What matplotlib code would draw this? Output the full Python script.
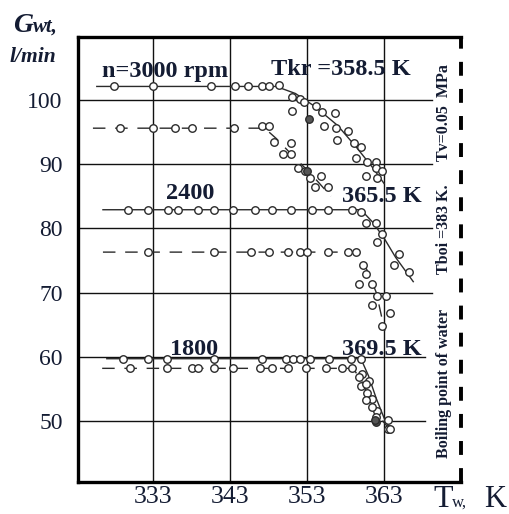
import matplotlib
matplotlib.use("Agg")
import matplotlib.pyplot as plt
from matplotlib.lines import Line2D

plt.rcParams['font.family'] = ['Liberation Serif', 'DejaVu Serif']
plt.rcParams['lines.scale_dashes'] = False

# ---------------- data ----------------
x_ticks = [333, 343, 353, 363]
y_ticks = [50, 60, 70, 80, 90, 100]

# n = 3000 rpm, solid
s1_T = [328.0, 333.0, 340.5, 343.7, 345.3, 347.1, 348.1, 349.3, 351.1, 352.1, 352.6, 351.1,
        354.2, 355.0, 356.6, 355.2, 356.8, 356.9, 358.3, 359.1, 360.0, 359.4, 360.8,
        362.0, 362.0, 360.7, 362.1, 362.8]
s1_G = [102.1, 102.1, 102.1, 102.1, 102.1, 102.1, 102.1, 102.3, 100.5, 100.2, 99.7, 98.3,
        99.0, 98.1, 97.9, 96.0, 95.7, 93.8, 95.2, 93.3, 92.7, 91.0, 90.3,
        90.4, 89.4, 88.1, 87.9, 89.0]
s1_line_T = [325.7, 349.0, 351.5, 354.0, 357.0, 359.5, 361.5, 363.0]
s1_line_G = [102.1, 102.1, 101.0, 99.0, 96.0, 92.5, 89.5, 87.0]

# second 3000 rpm series, dashed
s2_T = [328.7, 333.0, 335.9, 338.1, 343.5, 347.1, 348.1, 348.7, 349.9, 350.9, 350.9,
        351.8, 352.8, 353.4, 354.8, 354.1, 355.7]
s2_G = [95.6, 95.6, 95.6, 95.6, 95.6, 96.0, 96.0, 93.5, 91.6, 93.3, 91.6,
        89.4, 89.0, 87.9, 88.2, 86.5, 86.5]
s2_line_T = [325.2, 347.5, 349.0, 351.0, 353.5, 356.1]
s2_line_G = [95.6, 95.6, 94.0, 91.5, 88.5, 85.0]

# n = 2400 rpm, solid
s3_T = [329.7, 332.3, 335.0, 336.3, 338.8, 340.9, 343.4, 346.2, 348.4, 350.9, 353.7, 355.7,
        358.8, 360.0, 360.7, 361.9, 362.8, 362.1, 365.0, 364.3, 366.3]
s3_G = [82.9, 82.9, 82.9, 82.9, 82.9, 82.9, 82.9, 82.9, 82.9, 82.9, 82.9, 82.9,
        82.9, 82.6, 80.9, 80.9, 79.1, 77.8, 76.0, 74.3, 73.2]
s3_line_T = [326.5, 360.0, 361.5, 363.0, 364.5, 366.8]
s3_line_G = [82.9, 82.9, 81.0, 78.5, 75.5, 71.7]

# second 2400 rpm series, dashed
s4_T = [332.3, 340.9, 345.7, 348.1, 350.5, 352.1, 353.0, 355.7, 358.3, 359.4,
        360.3, 360.7, 359.7, 361.5, 362.1, 363.3, 361.5, 363.8, 362.7]
s4_G = [76.3, 76.3, 76.3, 76.3, 76.3, 76.3, 76.3, 76.3, 76.3, 76.3,
        74.3, 72.9, 71.4, 71.4, 69.5, 69.4, 68.0, 66.8, 64.8]
s4_line_T = [326.5, 359.5, 360.8, 362.0, 363.1]
s4_line_G = [76.3, 76.3, 73.5, 70.0, 64.0]

# n = 1800 rpm, solid
s5_T = [329.1, 332.3, 334.8, 340.9, 347.1, 350.3, 351.2, 352.1, 353.4, 355.9, 358.7, 360.0,
        360.2, 361.1, 360.0, 360.8, 361.5, 362.1, 363.5, 363.5]
s5_G = [59.7, 59.7, 59.7, 59.7, 59.7, 59.7, 59.7, 59.7, 59.7, 59.7, 59.7, 59.7,
        57.3, 56.3, 55.5, 54.3, 53.5, 51.5, 50.2, 48.8]
s5_line_T = [327.0, 360.0, 361.0, 362.0, 363.0, 364.0]
s5_line_G = [59.7, 59.7, 57.0, 53.5, 50.5, 48.2]

# second 1800 rpm series, dashed
s6_T = [330.0, 334.8, 338.1, 338.9, 340.9, 343.4, 346.9, 348.4, 350.5, 352.9, 355.5, 357.6,
        358.9, 359.7, 360.7, 360.7, 361.5, 362.0, 363.8]
s6_G = [58.2, 58.2, 58.2, 58.2, 58.2, 58.2, 58.2, 58.2, 58.2, 58.2, 58.2, 58.2,
        58.2, 56.8, 55.7, 53.2, 52.2, 50.7, 48.8]
s6_line_T = [326.4, 359.0, 360.2, 361.3, 362.5, 364.0]
s6_line_G = [58.2, 58.2, 56.0, 53.0, 50.5, 48.3]

# dark (filled) points
filled_T = [353.3, 362.0, 361.8, 353.0]
filled_G = [97.1, 49.8, 50.2, 89.0]

# ---------------- figure ----------------
W, H = 509, 514
fig = plt.figure(figsize=(W / 100, H / 100), dpi=100)
L, R, T_, B = 78, 461, 37, 482
ax = fig.add_axes([L / W, 1 - B / H, (R - L) / W, (B - T_) / H])
ax.set_xlim(323.26, 373.0)
ax.set_ylim(40.5, 109.8)

ink = '#2b2b2b'
txt = '#141c33'

# grid
for xv in x_ticks:
    ax.axvline(xv, color='#111111', lw=1.0, zorder=1)
grid_end = {50: 368.3, 60: 368.3, 70: 369.2, 80: 369.2, 90: 369.2, 100: 369.2}
for yv in y_ticks:
    ax.plot([323.26, grid_end[yv]], [yv, yv], color='#111111', lw=1.0, zorder=1)

dash = (0, (9, 7))
series = [
    (s1_T, s1_G, s1_line_T, s1_line_G, '-'),
    (s2_T, s2_G, s2_line_T, s2_line_G, dash),
    (s3_T, s3_G, s3_line_T, s3_line_G, '-'),
    (s4_T, s4_G, s4_line_T, s4_line_G, dash),
    (s5_T, s5_G, s5_line_T, s5_line_G, '-'),
    (s6_T, s6_G, s6_line_T, s6_line_G, dash),
]
for mT, mG, lT, lG, ls in series:
    ax.plot(lT, lG, color=ink, lw=1.0, ls=ls, zorder=2)
    ax.plot(mT, mG, ls='none', marker='o', ms=5.4, mfc='white', mec=ink, mew=1.0, zorder=3)
ax.plot(filled_T, filled_G, ls='none', marker='o', ms=5.4, mfc='#555555', mec=ink, mew=1.0, zorder=3)

# spines
for s in ['top', 'left', 'bottom']:
    ax.spines[s].set_linewidth(2.4)
    ax.spines[s].set_color('black')
ax.spines['right'].set_visible(False)
ax.add_line(Line2D([1, 1], [0, 1], transform=ax.transAxes, color='black', lw=2.8,
                   ls=(0, (10, 9.5)), clip_on=False, solid_capstyle='butt', dash_capstyle='butt'))

ax.set_xticks(x_ticks)
ax.set_xticklabels([str(v) for v in x_ticks], fontsize=18.5, color=txt)
ax.set_yticks(y_ticks)
ax.set_yticklabels([str(v) for v in y_ticks], fontsize=17, color=txt)
ax.tick_params(axis='both', length=0)
ax.tick_params(axis='y', pad=11)
ax.tick_params(axis='x', pad=3)

# annotations
bold = dict(fontweight='bold', color=txt, ha='center', va='center')
ax.text(334.6, 104.5, 'n=3000 rpm', fontsize=17.5, **bold)
ax.text(357.4, 104.7, 'Tkr =358.5 K', fontsize=17.5, **bold)
ax.text(337.8, 85.5, '2400', fontsize=17.5, **bold)
ax.text(362.7, 84.9, '365.5 K', fontsize=17.5, **bold)
ax.text(338.3, 61.1, '1800', fontsize=17.5, **bold)
ax.text(362.7, 61.1, '369.5 K', fontsize=17.5, **bold)

vt = dict(fontweight='bold', color=txt, ha='center', va='center', rotation=90, fontsize=11.5)
ax.text(370.8, 98.1, 'Tv=0.05  MPa', **vt)
ax.text(370.8, 79.9, 'Tboi =383 K.', **vt)
ax.text(370.8, 55.9, 'Boiling point of water', **vt)

# axis titles
fig.text(13 / W, 1 - 32 / H, 'G', fontsize=20, fontweight='bold', fontstyle='italic',
         color=txt, ha='left', va='baseline')
fig.text(33 / W, 1 - 32 / H, 'wt,', fontsize=15, fontweight='bold', fontstyle='italic',
         color=txt, ha='left', va='baseline')
fig.text(10 / W, 1 - 62 / H, 'l/min', fontsize=15.5, fontweight='bold', fontstyle='italic',
         color=txt, ha='left', va='baseline')
fig.text(433 / W, 1 - 507 / H, 'T', fontsize=23, color=txt, ha='left', va='baseline')
fig.text(452 / W, 1 - 507 / H, 'w,', fontsize=12, color=txt, ha='left', va='baseline')
fig.text(484 / W, 1 - 507 / H, 'K', fontsize=22, color=txt, ha='left', va='baseline')

fig.savefig('out.png', dpi=100)
